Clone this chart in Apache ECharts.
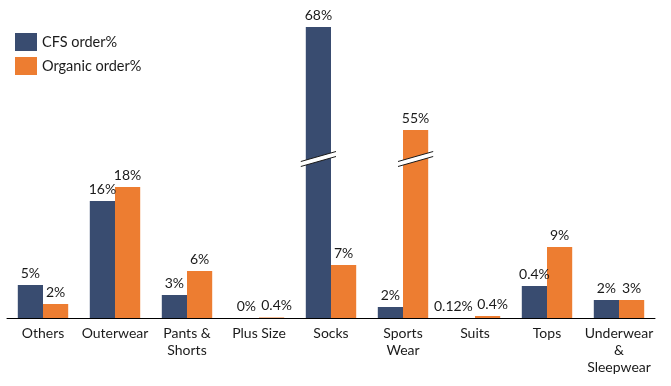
<!DOCTYPE html>
<html>
<head>
<meta charset="utf-8">
<script src="https://cdn.jsdelivr.net/npm/echarts@6/dist/echarts.min.js"></script>
<style>html,body{margin:0;padding:0;background:#fff}#c{width:671px;height:386px}</style>
</head>
<body>
<div id="c"></div>
<script>
// Categories
var categories = ['Others', 'Outerwear', 'Pants &\nShorts', 'Plus Size', 'Socks', 'Sports\nWear', 'Suits', 'Tops', 'Underwear\n&\nSleepwear'];
// Bar heights as drawn on the (broken) value axis
var cfsHeights = [33, 117, 23, 0, 291, 11, 0, 32, 18];
var organicHeights = [14, 131, 47, 0.5, 53, 188, 2, 71, 18];
// Value labels shown on the bars
var cfsLabels = ['5%', '16%', '3%', '0%', '68%', '2%', '0.12%', '0.4%', '2%'];
var organicLabels = ['2%', '18%', '6%', '0.4%', '7%', '55%', '0.4%', '9%', '3%'];
// Axis-break marks: [category index, height, side (-1 CFS, +1 Organic)]
var breaks = [[4, 159, -1], [5, 159, 1]];

// horizontal nudges of some value labels (styling, px)
var cfsLabelShift = {6: -9};
var organicLabelShift = {3: 5, 6: 5};

function buildData(vals, shifts) {
  return vals.map(function (v, i) {
    var item = {value: v};
    if (shifts[i]) item.label = {offset: [shifts[i], 0]};
    return item;
  });
}

var FONT = 'Lato';
var chart = echarts.init(document.getElementById('c'), null, {renderer: 'canvas'});
chart.setOption({
  animation: false,
  textStyle: {fontFamily: FONT},
  legend: {
    orient: 'vertical', left: 15, top: 33, padding: 0,
    itemWidth: 22, itemHeight: 18, itemGap: 6,
    icon: 'rect',
    textStyle: {fontFamily: FONT, fontSize: 14.5, color: '#1a1a1a'},
    data: ['CFS order%', 'Organic order%']
  },
  grid: {left: 7, right: 16, top: 18, bottom: 68, containLabel: false},
  xAxis: {
    type: 'category', data: categories,
    axisLine: {lineStyle: {color: '#000', width: 1}},
    axisTick: {show: false},
    axisLabel: {fontFamily: FONT, fontSize: 14, color: '#1a1a1a', lineHeight: 17, margin: 7, interval: 0}
  },
  yAxis: {type: 'value', min: 0, max: 300, show: false, splitLine: {show: false}},
  series: [
    {
      name: 'CFS order%', type: 'bar', data: buildData(cfsHeights, cfsLabelShift),
      barGap: '0%', barCategoryGap: '30%',
      itemStyle: {color: '#394C70'},
      label: {show: true, position: 'top', distance: 5, fontFamily: FONT, fontSize: 14, color: '#1a1a1a',
        formatter: function (p) { return cfsLabels[p.dataIndex]; }}
    },
    {
      name: 'Organic order%', type: 'bar', data: buildData(organicHeights, organicLabelShift),
      itemStyle: {color: '#ED7D31'},
      label: {show: true, position: 'top', distance: 5, fontFamily: FONT, fontSize: 14, color: '#1a1a1a',
        formatter: function (p) { return organicLabels[p.dataIndex]; }}
    },
    {
      type: 'custom', data: breaks, z: 10, silent: true,
      renderItem: function (params, api) {
        var c = api.coord([api.value(0), api.value(1)]);
        var band = api.size([1, 0])[0];
        var barW = band * 0.7 / 2;
        var cx = c[0] + api.value(2) * barW / 2;
        var cy = c[1];
        var hw = barW / 2 + 5, dy = 5, gap = 2.5;
        return {
          type: 'group',
          children: [
            {type: 'polygon', shape: {points: [[cx - hw, cy + dy - gap], [cx + hw, cy - dy - gap], [cx + hw, cy - dy + gap], [cx - hw, cy + dy + gap]]},
              style: {fill: '#fff'}},
            {type: 'line', shape: {x1: cx - hw, y1: cy + dy - gap, x2: cx + hw, y2: cy - dy - gap}, style: {stroke: '#1a1a1a', lineWidth: 1}},
            {type: 'line', shape: {x1: cx - hw, y1: cy + dy + gap, x2: cx + hw, y2: cy - dy + gap}, style: {stroke: '#1a1a1a', lineWidth: 1}}
          ]
        };
      }
    }
  ]
});
</script>
</body>
</html>
